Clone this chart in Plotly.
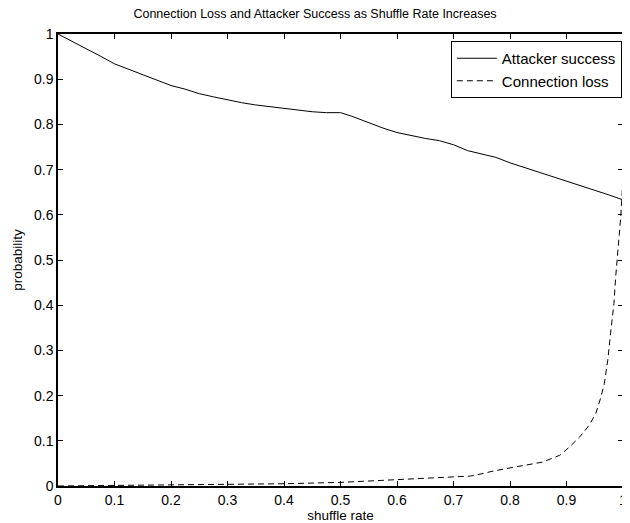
import plotly.graph_objects as go

# Attacker success
as_x = [0.0, 0.025, 0.05, 0.075, 0.1, 0.125, 0.15, 0.175, 0.2, 0.225, 0.25, 0.275, 0.3,
        0.325, 0.35, 0.375, 0.4, 0.425, 0.45, 0.475, 0.5, 0.52, 0.55, 0.575, 0.6, 0.625,
        0.65, 0.675, 0.7, 0.725, 0.75, 0.775, 0.8, 0.825, 0.85, 0.875, 0.9, 0.925, 0.95,
        0.975, 1.0]
as_y = [1.000, 0.984, 0.967, 0.951, 0.934, 0.922, 0.909, 0.898, 0.886, 0.878, 0.868, 0.861, 0.854,
        0.848, 0.843, 0.839, 0.835, 0.831, 0.828, 0.826, 0.826, 0.818, 0.803, 0.792, 0.782, 0.775,
        0.769, 0.764, 0.755, 0.742, 0.735, 0.727, 0.715, 0.705, 0.695, 0.684, 0.674, 0.664, 0.654,
        0.644, 0.633]

# Connection loss
cl_x = [0.0, 0.1, 0.2, 0.3, 0.4, 0.5, 0.55, 0.6, 0.65, 0.7, 0.73, 0.75, 0.77, 0.8, 0.83,
        0.858, 0.888, 0.905, 0.923, 0.94, 0.952, 0.961, 0.967, 0.973, 0.978, 0.984, 0.987,
        0.992, 0.996, 1.0]
cl_y = [0.0, 0.001, 0.002, 0.003, 0.005, 0.008, 0.011, 0.014, 0.017, 0.020, 0.022, 0.027, 0.033,
        0.040, 0.046, 0.053, 0.068, 0.086, 0.108, 0.134, 0.161, 0.197, 0.227, 0.278, 0.338,
        0.404, 0.462, 0.537, 0.595, 0.680]

tick_vals = [i / 10 for i in range(11)]
tick_text = ["0", "0.1", "0.2", "0.3", "0.4", "0.5", "0.6", "0.7", "0.8", "0.9", "1"]

FONT = "Liberation Sans, Arial, Helvetica, sans-serif"

fig = go.Figure()
fig.add_trace(go.Scatter(x=as_x, y=as_y, mode="lines", name="Attacker success",
                         line=dict(color="black", width=1)))
fig.add_trace(go.Scatter(x=cl_x, y=cl_y, mode="lines", name="Connection loss",
                         line=dict(color="black", width=1, dash="6px,4px")))

axis_common = dict(
    showgrid=False, zeroline=False, showline=True, linecolor="black", linewidth=1.5,
    mirror="allticks", ticks="inside", ticklen=5, tickwidth=1, tickcolor="black",
    tickvals=tick_vals, ticktext=tick_text, range=[0, 1],
    tickfont=dict(family=FONT, size=14, color="black"),
)

fig.update_layout(
    width=622, height=515,
    margin=dict(l=50, r=3, t=26, b=37),
    paper_bgcolor="white", plot_bgcolor="white",
    font=dict(family=FONT, size=13, color="black"),
    title=dict(text="Connection Loss and Attacker Success as Shuffle Rate Increases",
               x=0.4936, xanchor="center", y=0.99, yanchor="middle",
               font=dict(family=FONT, size=12.5, color="black")),
    xaxis=dict(**axis_common, title=dict(text="shuffle rate", standoff=0,
                                         font=dict(family=FONT, size=13.5))),
    yaxis=dict(**axis_common, title=dict(text="probability", standoff=8,
                                         font=dict(family=FONT, size=13.5))),
    legend=dict(x=0.998, y=0.9845, xanchor="right", yanchor="top",
                bordercolor="black", borderwidth=1, bgcolor="white",
                font=dict(family=FONT, size=15), tracegroupgap=0,
                itemwidth=40),
    showlegend=True,
)

fig.write_html("out.html")
